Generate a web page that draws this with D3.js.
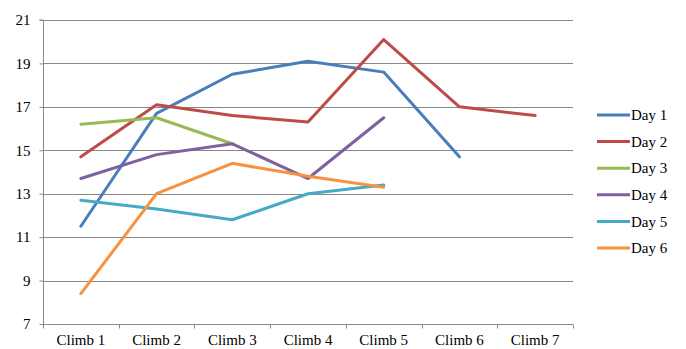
<!DOCTYPE html>
<html>
<head>
<meta charset="utf-8">
<script src="https://cdn.jsdelivr.net/npm/d3@7"></script>
<style>
  html, body { margin: 0; padding: 0; background: #fff; }
  svg { display: block; }
  svg text { font-family: "Liberation Serif", "Times New Roman", Times, "DejaVu Serif", serif !important; fill: #000; }
</style>
</head>
<body>
<svg id="chart" width="686" height="349"></svg>
<script>
// Climb categories along the x axis
const climbs = ["Climb 1", "Climb 2", "Climb 3", "Climb 4", "Climb 5", "Climb 6", "Climb 7"];
const yTicks = [7, 9, 11, 13, 15, 17, 19, 21];

// One array per day; null where a day has no value for that climb
const day1 = [11.5, 16.7, 18.5, 19.1, 18.6, 14.7, null];
const day2 = [14.7, 17.1, 16.6, 16.3, 20.1, 17.0, 16.6];
const day3 = [16.2, 16.5, 15.3, null, null, null, null];
const day4 = [13.7, 14.8, 15.3, 13.7, 16.5, null, null];
const day5 = [12.7, 12.3, 11.8, 13.0, 13.4, null, null];
const day6 = [8.4, 13.0, 14.4, 13.8, 13.3, null, null];

const seriesNames = ["Day 1", "Day 2", "Day 3", "Day 4", "Day 5", "Day 6"];
const seriesColors = ["#4A7EBB", "#BE4B48", "#98B954", "#7D60A0", "#46AAC5", "#F69240"];
const seriesValues = [day1, day2, day3, day4, day5, day6];

const serif = "'Liberation Serif', 'Times New Roman', Times, 'DejaVu Serif', serif";

const svg = d3.select("#chart");
const plot = { left: 43, right: 573, top: 20, bottom: 324 };

const x = d3.scaleBand().domain(climbs).range([plot.left, plot.right]);
const y = d3.scaleLinear().domain([7, 21]).range([plot.bottom, plot.top]);

const gridColor = "#888888";

// Horizontal gridlines
svg.append("g")
  .selectAll("line")
  .data(yTicks.slice(1))
  .join("line")
  .attr("x1", plot.left).attr("x2", plot.right)
  .attr("y1", d => Math.round(y(d)) + 0.5).attr("y2", d => Math.round(y(d)) + 0.5)
  .attr("stroke", gridColor).attr("stroke-width", 1);

// Y axis
const yAxis = svg.append("g")
  .attr("transform", `translate(${plot.left + 0.5},0)`)
  .call(d3.axisLeft(y).tickValues(yTicks).tickSize(4).tickPadding(9).tickFormat(d3.format("d")))
  .attr("font-family", serif).attr("font-size", 15);
yAxis.select(".domain").attr("stroke", gridColor).attr("d", `M-4,${plot.top}H0V${plot.bottom}`);
yAxis.selectAll(".tick line").attr("stroke", gridColor);
yAxis.selectAll(".tick text").attr("fill", "#000");

// X axis with tick marks between categories
const xAxis = svg.append("g")
  .attr("transform", `translate(0,${Math.round(plot.bottom) + 0.5})`)
  .call(d3.axisBottom(x).tickSize(0).tickPadding(10))
  .attr("font-family", serif).attr("font-size", 15);
xAxis.select(".domain").attr("stroke", gridColor).attr("d", `M${plot.left},0H${plot.right}`);
xAxis.selectAll(".tick text").attr("fill", "#000");
xAxis.append("g")
  .selectAll("line")
  .data(d3.range(climbs.length + 1))
  .join("line")
  .attr("x1", i => Math.round(plot.left + i * x.bandwidth()) + 0.5)
  .attr("x2", i => Math.round(plot.left + i * x.bandwidth()) + 0.5)
  .attr("y1", 0).attr("y2", 4)
  .attr("stroke", gridColor);

// Series lines
const line = d3.line()
  .defined(d => d.v !== null)
  .x(d => x(d.c) + x.bandwidth() / 2)
  .y(d => y(d.v));

svg.append("g")
  .selectAll("path")
  .data(seriesValues.map((vals, i) => ({ name: seriesNames[i], color: seriesColors[i],
    pts: vals.map((v, j) => ({ c: climbs[j], v })) })))
  .join("path")
  .attr("d", s => line(s.pts))
  .attr("fill", "none")
  .attr("stroke", s => s.color)
  .attr("stroke-width", 3)
  .attr("stroke-linejoin", "round")
  .attr("stroke-linecap", "round");

// Legend
const legend = svg.append("g").attr("transform", "translate(597,115)")
  .attr("font-family", serif).attr("font-size", 15);
const items = legend.selectAll("g")
  .data(seriesNames)
  .join("g")
  .attr("transform", (d, i) => `translate(0,${i * 26.6})`);
items.append("line")
  .attr("x1", 0).attr("x2", 33).attr("y1", 0).attr("y2", 0)
  .attr("stroke", (d, i) => seriesColors[i]).attr("stroke-width", 3);
items.append("text")
  .attr("x", 34).attr("y", 0).attr("dy", "0.34em")
  .text(d => d);
</script>
</body>
</html>
